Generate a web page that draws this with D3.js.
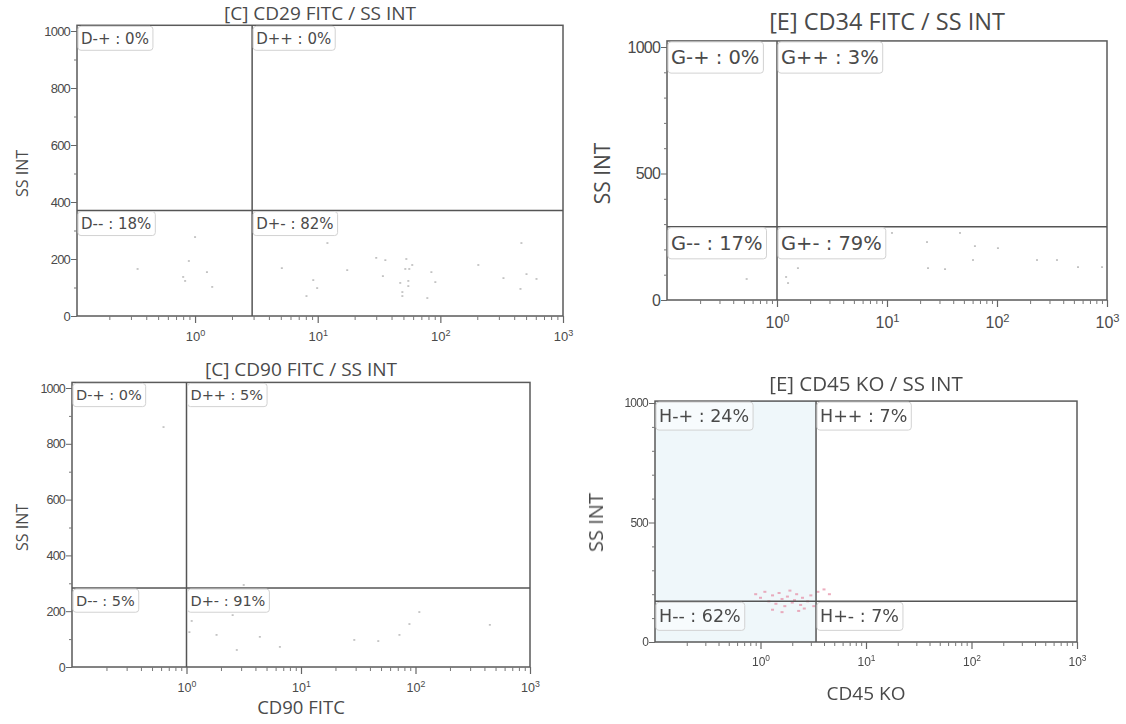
<!DOCTYPE html>
<html>
<head>
<meta charset="utf-8">
<script src="https://cdn.jsdelivr.net/npm/d3@7"></script>
<style>
  body { margin: 0; background: #fff; }
  svg { display: block; }
  text { fill: #4a4a4a; }
</style>
</head>
<body>
<svg width="1126" height="724"></svg>
<script>
// axis ticks
var decadeExps = [0, 1, 2, 3];
var minorMultipliers = [2, 3, 4, 5, 6, 7, 8, 9];
var ssTicksFine = [0, 200, 400, 600, 800, 1000];
var ssMinorFine = [100, 300, 500, 700, 900];
var ssTicksCoarse = [0, 500, 1000];
var ssMinorCoarse = [100, 200, 300, 400, 600, 700, 800, 900];

// [C] CD29
var cd29Title = "[C] CD29 FITC / SS INT";
var cd29Quadrants = ["D-+ : 0%", "D++ : 0%", "D-- : 18%", "D+- : 82%"];
var cd29Gate = [2.92, 370];
var cd29Events = [[1.0, 277], [0.89, 193], [0.34, 165], [0.80, 137], [0.83, 123], [1.25, 154], [1.38, 102],
  [5.1, 168], [12, 256], [9.2, 126], [9.9, 98], [8.1, 70], [17.4, 161], [30, 204], [35.6, 196], [34, 140],
  [52.8, 200], [51.8, 165], [55.8, 165], [59, 179], [47.1, 116], [54.8, 123], [54.8, 105], [49, 84], [49, 70],
  [84.5, 154], [91, 119], [78.3, 63], [204, 179], [327, 133], [458, 256], [504, 147], [608, 130], [450, 95]];

// [E] CD34
var cd34Title = "[E] CD34 FITC / SS INT";
var cd34Quadrants = ["G-+ : 0%", "G++ : 3%", "G-- : 17%", "G+- : 79%"];
var cd34Gate = [1.0, 290];
var cd34Events = [[11.1, 265], [23.1, 229], [46.1, 265], [63, 213], [102, 205], [60.5, 158], [33.7, 122],
  [351, 158], [901, 130], [1.55, 126], [1.21, 91], [1.26, 67], [0.53, 83], [23.6, 126], [231, 158], [545, 130]];

// [C] CD90
var cd90Title = "[C] CD90 FITC / SS INT";
var cd90Quadrants = ["D-+ : 0%", "D++ : 5%", "D-- : 5%", "D+- : 91%"];
var cd90Gate = [1.0, 283];
var cd90Events = [[1.11, 165], [1.06, 125], [1.83, 115], [2.53, 186], [2.75, 61], [4.37, 108], [6.54, 72],
  [29.2, 97], [47.3, 93], [72.4, 115], [88.5, 154], [108, 197], [446, 151], [0.63, 860], [3.16, 294]];

// [E] CD45
var cd45Title = "[E] CD45 KO / SS INT";
var cd45Quadrants = ["H-+ : 24%", "H++ : 7%", "H-- : 62%", "H+- : 7%"];
var cd45Gate = [3.36, 170];
var cd45Pink = [[0.9, 200], [1.0, 185], [1.1, 210], [1.2, 170], [1.3, 195], [1.4, 160], [1.5, 205], [1.6, 180],
  [1.7, 150], [1.8, 190], [1.9, 215], [2.0, 165], [2.1, 175], [2.2, 200], [2.4, 155], [2.5, 185], [2.6, 140],
  [2.8, 170], [3.0, 195], [3.2, 150], [3.5, 210], [4.0, 220], [4.5, 200], [1.3, 135], [1.6, 125], [2.3, 130]];

var svg = d3.select("svg");
svg.append("defs").append("filter").attr("id", "soft")
  .append("feGaussianBlur").attr("stdDeviation", 0.45);

drawPanel({ left: 77, right: 563, xMin: 0.109, y0: 316, y1000: 31, top: 1020, tickFs: 13, labFs: 15,
  titleFs: 19, titleY: 20, yLabFs: 16, yLabX: 22 },
  cd29Title, cd29Quadrants, cd29Gate, cd29Events, ssTicksFine, ssMinorFine, null);

drawPanel({ left: 667, right: 1107, xMin: 0.1, y0: 300, y1000: 47, top: 1024, tickFs: 16, labFs: 19.5,
  titleFs: 23.5, titleY: 30, yLabFs: 21, yLabX: 602 },
  cd34Title, cd34Quadrants, cd34Gate, cd34Events, ssTicksCoarse, ssMinorCoarse, null);

drawPanel({ left: 72, right: 530, xMin: 0.1, y0: 667, y1000: 388, top: 1020, tickFs: 12.5, labFs: 14.5,
  titleFs: 19, titleY: 376, yLabFs: 16, yLabX: 22, xLabFs: 18.5, xLabY: 714 },
  cd90Title, cd90Quadrants, cd90Gate, cd90Events, ssTicksFine, ssMinorFine, "CD90 FITC");

var p4 = drawPanel({ left: 655, right: 1077, xMin: 0.1, y0: 642, y1000: 403, top: 1008, tickFs: 12, labFs: 17.5,
  titleFs: 20.5, titleY: 391, yLabFs: 20, yLabX: 595, xLabFs: 19, xLabY: 700, tint: "#eff7fa", soft: true },
  cd45Title, cd45Quadrants, cd45Gate, [], ssTicksCoarse, ssMinorCoarse, "CD45 KO");

// pink cluster near the CD45 cut
p4.g.insert("g", ".box").selectAll("rect").data(cd45Pink).join("rect")
  .attr("x", d => p4.x(d[0]) - 1.5).attr("y", d => p4.y(d[1]) - 1)
  .attr("width", 3).attr("height", 2)
  .attr("fill", "#e68aa3").attr("opacity", 0.7);

function drawPanel(L, title, quads, gate, events, yTicks, yMinor, xLabel){
  var g = svg.append("g");
  if (L.soft) g.attr("filter", "url(#soft)");
  var x = d3.scaleLog().domain([L.xMin, 1000]).range([L.left, L.right]);
  var y = d3.scaleLinear().domain([0, 1000]).range([L.y0, L.y1000]);
  var yTop = y(L.top);

  if (L.tint){
    g.append("rect").attr("x", L.left).attr("y", yTop)
      .attr("width", x(gate[0]) - L.left).attr("height", L.y0 - yTop)
      .attr("fill", L.tint);
  }

  g.append("g").selectAll("rect").data(events).join("rect")
    .attr("x", d => x(d[0]) - 1).attr("y", d => y(d[1]) - 0.8)
    .attr("width", 2).attr("height", 1.6)
    .attr("fill", "#bcbcbc");

  // frame + gates
  g.append("rect").attr("class", "box")
    .attr("x", L.left).attr("y", yTop)
    .attr("width", L.right - L.left).attr("height", L.y0 - yTop)
    .attr("fill", "none").attr("stroke", "#5a5a5a").attr("stroke-width", 1.5);
  g.append("line")
    .attr("x1", x(gate[0])).attr("x2", x(gate[0]))
    .attr("y1", yTop).attr("y2", L.y0)
    .attr("stroke", "#555").attr("stroke-width", 1.5);
  g.append("line")
    .attr("x1", L.left).attr("x2", L.right)
    .attr("y1", y(gate[1])).attr("y2", y(gate[1]))
    .attr("stroke", "#555").attr("stroke-width", 1.5);

  // y axis
  var ya = g.append("g").attr("transform", "translate(" + L.left + ",0)")
    .call(d3.axisLeft(y).tickValues(yTicks).tickSize(6).tickPadding(1).tickFormat(d3.format("d")));
  ya.select(".domain").remove();
  ya.selectAll("line").attr("stroke", "#666");
  ya.selectAll("text").attr("font-size", L.tickFs)
    .attr("font-family", "Liberation Sans, Arial, sans-serif")
    .attr("letter-spacing", -0.8);
  var ym = g.append("g").attr("transform", "translate(" + L.left + ",0)")
    .call(d3.axisLeft(y).tickValues(yMinor).tickSize(3).tickFormat(""));
  ym.select(".domain").remove();
  ym.selectAll("line").attr("stroke", "#777");

  // x axis (log)
  var xa = g.append("g").attr("transform", "translate(0," + L.y0 + ")")
    .call(d3.axisBottom(x).tickValues(decadeExps.map(e => Math.pow(10, e))).tickSize(7).tickFormat(""));
  xa.select(".domain").remove();
  xa.selectAll("line").attr("stroke", "#666").attr("stroke-width", 1.2);
  xa.selectAll(".tick").each(function(d){
    var t = d3.select(this).append("text")
      .attr("y", 12 + L.tickFs)
      .attr("text-anchor", "middle")
      .attr("font-size", L.tickFs)
      .attr("font-family", "Liberation Sans, Arial, sans-serif");
    t.append("tspan").text("10");
    t.append("tspan").attr("dy", -L.tickFs * 0.4).attr("font-size", L.tickFs * 0.7)
      .text(Math.round(Math.log10(d)));
  });
  var minorX = [];
  [-1, 0, 1, 2].forEach(function(e){
    minorMultipliers.forEach(function(m){
      var v = m * Math.pow(10, e);
      if (v > L.xMin) minorX.push(v);
    });
  });
  var xm = g.append("g").attr("transform", "translate(0," + L.y0 + ")")
    .call(d3.axisBottom(x).tickValues(minorX).tickSize(4).tickFormat(""));
  xm.select(".domain").remove();
  xm.selectAll("line").attr("stroke", "#777");

  // quadrant labels
  var anchors = [[L.left, yTop], [x(gate[0]), yTop], [L.left, y(gate[1])], [x(gate[0]), y(gate[1])]];
  quads.forEach(function(s, i){
    var ax = anchors[i][0], ay = anchors[i][1];
    var lg = g.append("g");
    var r = lg.append("rect");
    var t = lg.append("text")
      .attr("x", ax + 4).attr("y", ay + 1 + L.labFs * 1.15)
      .attr("font-size", L.labFs)
      .attr("font-family", "DejaVu Sans, sans-serif")
      .attr("fill", "#4f4f4f")
      .text(s);
    var w = t.node().getComputedTextLength();
    r.attr("x", ax + 1).attr("y", ay + 1)
      .attr("width", w + 7).attr("height", L.labFs * 1.6)
      .attr("rx", 3)
      .attr("fill", "#fff").attr("fill-opacity", L.tint ? 0.5 : 0.9)
      .attr("stroke", "#d2d2d2");
  });

  // titles
  g.append("text")
    .attr("x", (L.left + L.right) / 2).attr("y", L.titleY)
    .attr("text-anchor", "middle")
    .attr("font-family", "Open Sans, sans-serif")
    .attr("font-size", L.titleFs)
    .text(title);
  g.append("text")
    .attr("transform", "translate(" + L.yLabX + "," + ((L.y0 + L.y1000) / 2) + ") rotate(-90)")
    .attr("text-anchor", "middle")
    .attr("dominant-baseline", "central")
    .attr("font-family", "Open Sans, sans-serif")
    .attr("font-size", L.yLabFs)
    .text("SS INT");
  if (xLabel){
    g.append("text")
      .attr("x", (L.left + L.right) / 2).attr("y", L.xLabY)
      .attr("text-anchor", "middle")
      .attr("font-family", "Open Sans, sans-serif")
      .attr("font-size", L.xLabFs)
      .text(xLabel);
  }
  return { g: g, x: x, y: y };
}
</script>
</body>
</html>
